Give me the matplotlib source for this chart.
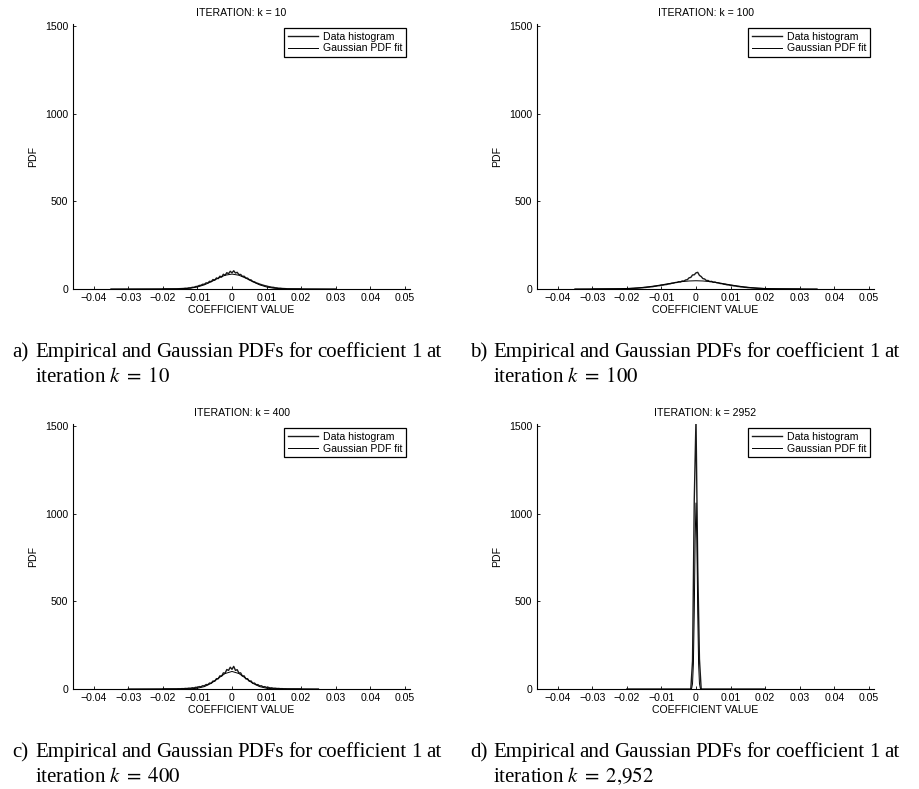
import matplotlib
matplotlib.use("Agg")
import matplotlib.pyplot as plt
import numpy as np

# ------------------------------------------------------------------ #
#  Data
# ------------------------------------------------------------------ #

XTICKS = [-0.04, -0.03, -0.02, -0.01, 0.0, 0.01, 0.02, 0.03, 0.04, 0.05]
XTICK_LABELS = ["\u22120.04", "\u22120.03", "\u22120.02", "\u22120.01", "0",
                "0.01", "0.02", "0.03", "0.04", "0.05"]
YTICKS = [0, 500, 1000, 1500]
YTICK_LABELS = ["0", "500", "1000", "1500"]

ITERATIONS = ["10", "100", "400", "2952"]
CAPTION_K = ["10", "100", "400", "2{,}952"]
PANEL_LETTERS = ["a)", "b)", "c)", "d)"]

# histogram bins: start, step, values ; tails = x where the line sits on 0
A_BIN_START, A_BIN_STEP = -0.016, 0.0005
A_HIST = [1, 1.5, 2, 2.5, 3, 4.5, 4, 6.5, 6.5, 9.5, 10, 14, 15, 20, 21, 27, 27,
          35, 34, 44, 42, 54, 50, 63, 59, 73, 68, 84, 78, 93, 87, 101,
          92,
          104, 91, 95, 82, 83, 72, 73, 63, 62, 53, 52, 43, 41, 35, 32, 28, 25,
          22, 19, 17, 14, 12.5, 10, 9.5, 7, 6.5, 4.5, 4.5, 3, 2.5, 2, 1]
A_TAILS = [-0.035, 0.03]
A_GAUSS_X = [-0.02, -0.018, -0.016, -0.014, -0.012, -0.01, -0.008, -0.006, -0.004, -0.002, 0.0,
             0.002, 0.004, 0.006, 0.008, 0.01, 0.012, 0.014, 0.016, 0.018, 0.02]
A_GAUSS_Y = [0.03, 0.13, 0.5, 1.7, 4.8, 11.5, 23.6, 41.4, 61.7, 78.5, 85.0,
             78.5, 61.7, 41.4, 23.6, 11.5, 4.8, 1.7, 0.5, 0.13, 0.03]

B_BIN_START, B_BIN_STEP = -0.02, 0.0005
B_HIST = [1.4, 1.9, 2.2, 2.9, 3.3, 4.1, 4.5, 5.4, 6.1, 6.8, 8.2, 8.8, 10.3, 10.8,
          12.4, 13.2, 15.3, 16.1, 18.4, 19.2, 21.5, 22.0, 24.6, 25.5, 28.4, 29.3,
          32.6, 33.4, 36.8, 37.5, 41.6, 40.3, 45.8, 45.2, 51.5, 53.1, 63.8, 66.2,
          80.0, 81.0,
          92.0,
          95.0, 77.5, 71.0, 59.2, 57.0, 48.1, 48.5, 42.2, 43.6, 38.4, 39.7, 35.5,
          34.6, 31.3, 30.5, 27.2, 26.4, 23.6, 22.9, 20.3, 19.8, 17.4, 16.9, 14.6,
          13.8, 11.7, 11.2, 9.6, 9.1, 7.7, 7.2, 6.1, 5.5, 4.8, 4.2, 3.6, 3.1, 2.6,
          2.0, 1.5]
B_TAILS = [-0.035, 0.035]
B_GAUSS_X = [-0.03, -0.028, -0.026, -0.024, -0.022, -0.02, -0.018, -0.016, -0.014,
             -0.012, -0.01, -0.008, -0.006, -0.004, -0.002, 0.0, 0.002, 0.004,
             0.006, 0.008, 0.01, 0.012, 0.014, 0.016, 0.018, 0.02, 0.022, 0.024,
             0.026, 0.028, 0.03]
B_GAUSS_Y = [0.09, 0.2, 0.43, 0.87, 1.65, 2.96, 5.0, 8.0, 12.1, 17.3, 23.5, 30.2,
             36.6, 42.1, 45.7, 47.0, 45.7, 42.1, 36.6, 30.2, 23.5, 17.3, 12.1,
             8.0, 5.0, 2.96, 1.65, 0.87, 0.43, 0.2, 0.09]

C_BIN_START, C_BIN_STEP = -0.016, 0.0005
C_HIST = [0.8, 1.4, 1.2, 2.2, 1.9, 3.3, 2.9, 4.9, 4.4, 7.2, 6.2, 9.9, 9.0, 13.8,
          12.6, 18.5, 18.0, 25.5, 24.5, 34.0, 33.0, 45.5, 44.0, 59.0, 58.0, 75.0,
          73.0, 92.0, 90.0, 111.0, 106.0, 124.0,
          112.0,
          129.0, 106.0, 110.0, 91.0, 92.0, 74.0, 75.0, 58.0, 59.0, 44.0, 46.0,
          33.0, 34.0, 24.5, 25.0, 17.5, 18.5, 12.5, 13.5, 8.8, 9.7, 6.0, 6.8, 4.1,
          4.6, 2.8, 3.1, 1.9, 2.1, 1.2, 1.3, 0.8]
C_TAILS = [-0.03, 0.025]
C_GAUSS_X = [-0.02, -0.018, -0.016, -0.014, -0.012, -0.01, -0.008, -0.006, -0.004,
             -0.002, 0.0, 0.002, 0.004, 0.006, 0.008, 0.01, 0.012, 0.014, 0.016,
             0.018, 0.02]
C_GAUSS_Y = [0.0, 0.0, 0.03, 0.22, 1.1, 4.4, 13.5, 32.5, 60.7, 88.2, 100.0, 88.2,
             60.7, 32.5, 13.5, 4.4, 1.1, 0.22, 0.03, 0.0, 0.0]

D_BIN_START, D_BIN_STEP = -0.0015, 0.0005
D_HIST = [0, 160, 1080, 1540, 700, 170, 0]
D_TAILS = [-0.02, 0.02]
D_GAUSS_X = [-0.0015, -0.00125, -0.001, -0.00075, -0.0005, -0.00025, 0.0,
             0.00025, 0.0005, 0.00075, 0.001, 0.00125, 0.0015]
D_GAUSS_Y = [0.4, 4.2, 31, 145, 438, 850, 1060, 850, 438, 145, 31, 4.2, 0.4]

PANELS = [
    (A_BIN_START, A_BIN_STEP, A_HIST, A_TAILS, A_GAUSS_X, A_GAUSS_Y),
    (B_BIN_START, B_BIN_STEP, B_HIST, B_TAILS, B_GAUSS_X, B_GAUSS_Y),
    (C_BIN_START, C_BIN_STEP, C_HIST, C_TAILS, C_GAUSS_X, C_GAUSS_Y),
    (D_BIN_START, D_BIN_STEP, D_HIST, D_TAILS, D_GAUSS_X, D_GAUSS_Y),
]

# ------------------------------------------------------------------ #
#  Layout (pixels of the 919 x 789 output)
# ------------------------------------------------------------------ #

W, H = 919, 789
AX_RECTS = [(73, 24, 337, 265), (537, 24, 337, 265),
            (73, 424, 337, 265), (537, 424, 337, 265)]
# caption: label x, text x, right edge of justified line, baseline of line 1
CAPTIONS = [(12, 35, 441, 357), (470, 493, 899, 357),
            (12, 35, 441, 757), (470, 493, 899, 757)]
CAP_LINE_GAP = 25

FS = 7.6
CAP_FS = 15
plt.rcParams["font.family"] = ["Liberation Sans", "DejaVu Sans"]
plt.rcParams["mathtext.fontset"] = "stix"
SERIF = ["Liberation Serif", "DejaVu Serif"]


def px_rect(x, y, w, h):
    return [x / W, 1 - (y + h) / H, w / W, h / H]


fig = plt.figure(figsize=(W / 100, H / 100), dpi=100, facecolor="white")

for i, (start, step, hist, tails, gx, gy) in enumerate(PANELS):
    ax = fig.add_axes(px_rect(*AX_RECTS[i]))
    bins = start + step * np.arange(len(hist))
    hx = np.concatenate([[tails[0]], bins, [tails[1]]])
    hy = np.concatenate([[0.0], hist, [0.0]])

    ax.plot(hx, hy, "-", color="#1a1a1a", lw=1.0, label="Data histogram")
    ax.plot(gx, gy, "-", color="black", lw=0.7, label="Gaussian PDF fit")

    ax.set_xlim(-0.046, 0.0515)
    ax.set_ylim(0, 1510)
    ax.set_xticks(XTICKS)
    ax.set_xticklabels(XTICK_LABELS)
    ax.set_yticks(YTICKS)
    ax.set_yticklabels(YTICK_LABELS)
    ax.tick_params(direction="in", length=2.5, width=0.6, labelsize=FS, pad=3)
    ax.tick_params(axis="y", pad=3.5)
    for side in ["top", "right"]:
        ax.spines[side].set_visible(False)
    for side in ["left", "bottom"]:
        ax.spines[side].set_linewidth(0.8)

    ax.set_title(f"ITERATION: k = {ITERATIONS[i]}", fontsize=FS, pad=6)
    ax.set_xlabel("COEFFICIENT VALUE", fontsize=FS, labelpad=1.5)
    ax.set_ylabel("PDF", fontsize=FS, labelpad=5)

    leg = ax.legend(loc="upper right", fontsize=FS, fancybox=False, framealpha=1,
                    edgecolor="black", handlelength=2.9, handletextpad=0.4,
                    labelspacing=0.15, borderpad=0.35, borderaxespad=0.4)
    leg.get_frame().set_linewidth(0.9)

# captions, first line justified like the LaTeX source
renderer = fig.canvas.get_renderer()
LINE1_WORDS = ["Empirical", "and", "Gaussian", "PDFs", "for", "coefficient", "1", "at"]
for i, (lx, tx, rx, yb) in enumerate(CAPTIONS):
    fig.text(lx / W, 1 - yb / H, PANEL_LETTERS[i], family=SERIF, fontsize=CAP_FS,
             va="baseline")
    texts = [fig.text(0, 1 - yb / H, w, family=SERIF, fontsize=CAP_FS, va="baseline")
             for w in LINE1_WORDS]
    widths = [t.get_window_extent(renderer).width for t in texts]
    gap = (rx - tx - sum(widths)) / (len(texts) - 1)
    x = tx
    for t, w in zip(texts, widths):
        t.set_x(x / W)
        x += w + gap
    fig.text(tx / W, 1 - (yb + CAP_LINE_GAP) / H,
             f"iteration $k \\;=\\; {CAPTION_K[i]}$", family=SERIF, fontsize=CAP_FS,
             va="baseline")

fig.savefig("out.png", dpi=100, facecolor="white")
